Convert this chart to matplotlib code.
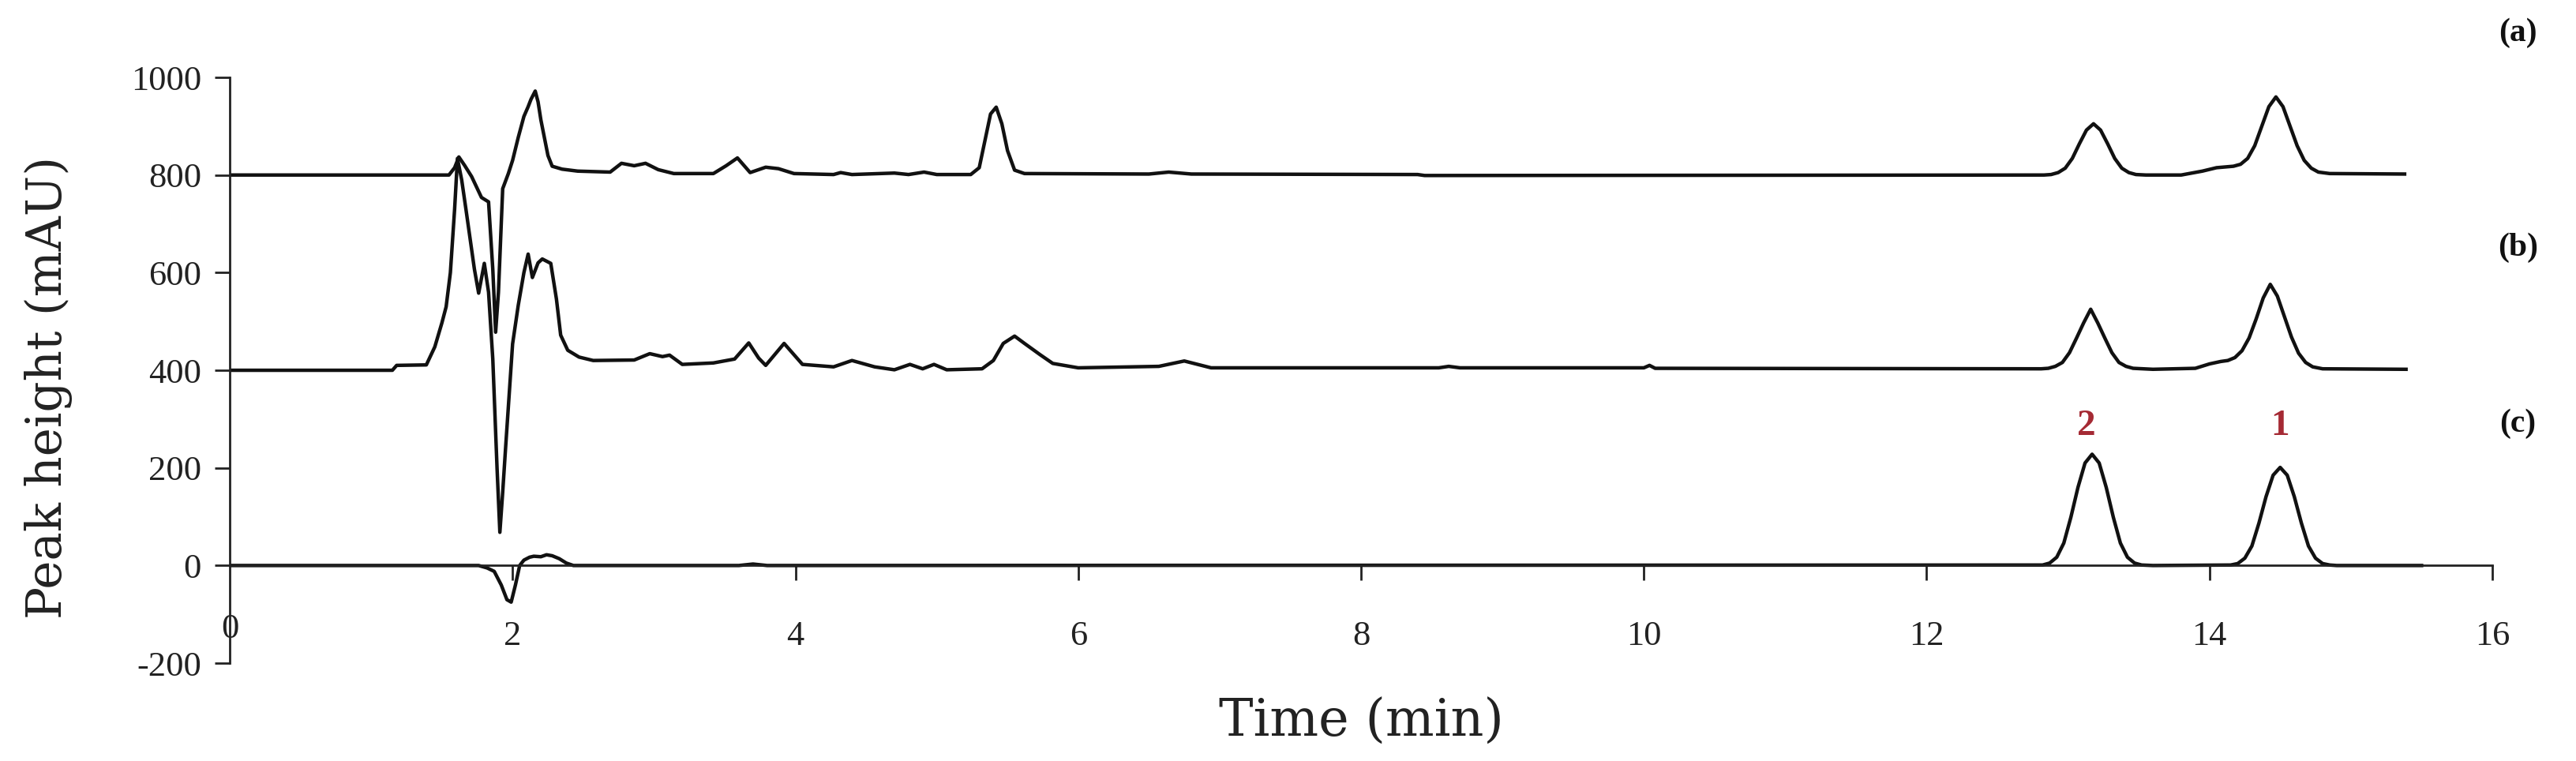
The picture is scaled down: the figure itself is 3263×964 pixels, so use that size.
import numpy as np
import matplotlib
matplotlib.use("Agg")
import matplotlib.pyplot as plt

plt.rcParams['font.family'] = ['Liberation Serif', 'DejaVu Serif']
plt.rcParams['axes.unicode_minus'] = False

# trace (a): sample, baseline 800
time_a = [0.00, 1.55, 1.59, 1.62, 1.66, 1.71, 1.78, 1.83, 1.86, 1.88, 1.90, 1.93, 1.97,
          2.00, 2.04, 2.08, 2.11, 2.13, 2.16, 2.18, 2.20, 2.25, 2.28, 2.35, 2.46, 2.69,
          2.77, 2.86, 2.94, 3.03, 3.14, 3.42, 3.51, 3.59, 3.68, 3.79, 3.88, 3.99, 4.27,
          4.32, 4.40, 4.70, 4.80, 4.91, 5.00, 5.24, 5.30, 5.34, 5.38, 5.42, 5.46, 5.50,
          5.55, 5.62, 6.50, 6.64, 6.80, 8.40, 8.45, 12.83, 12.88, 12.93, 12.98, 13.03,
          13.08, 13.13, 13.18, 13.23, 13.28, 13.33, 13.38, 13.43, 13.48, 13.55, 13.80,
          13.95, 14.05, 14.17, 14.22, 14.27, 14.32, 14.37, 14.42, 14.47, 14.52, 14.57,
          14.62, 14.67, 14.72, 14.77, 14.85, 15.38]
peak_a = [800, 800, 815, 837, 820, 797, 754, 745, 607, 478, 560, 772, 803,
          830, 877, 920, 940, 955, 972, 950, 913, 840, 818, 812, 808, 806,
          824, 819, 824, 811, 803, 803, 819, 835, 805, 816, 813, 803, 801,
          805, 801, 804, 801, 806, 801, 801, 815, 870, 925, 939, 905, 850,
          810, 803, 802, 806, 802, 801, 799, 800, 801, 805, 814, 834,
          864, 892, 905, 892, 864, 834, 814, 805, 801, 800, 800,
          808, 815, 818, 822, 834, 860, 900, 940, 960, 940, 900,
          860, 830, 814, 806, 803, 802]

# trace (b): sample, baseline 400
time_b = [0.00, 1.15, 1.18, 1.39, 1.45, 1.50, 1.53, 1.56, 1.59, 1.61, 1.64, 1.67, 1.73,
          1.76, 1.80, 1.83, 1.86, 1.89, 1.91, 1.93, 1.95, 2.00, 2.04, 2.08, 2.11, 2.14,
          2.18, 2.21, 2.27, 2.31, 2.34, 2.39, 2.47, 2.57, 2.86, 2.97, 3.06, 3.11, 3.20,
          3.42, 3.57, 3.67, 3.74, 3.79, 3.92, 4.05, 4.27, 4.40, 4.56, 4.70, 4.81, 4.90,
          4.98, 5.07, 5.32, 5.40, 5.47, 5.55, 5.62, 5.73, 5.82, 6.00, 6.57, 6.75, 6.94,
          8.55, 8.62, 8.70, 10.00, 10.04, 10.08, 12.81, 12.86, 12.91, 12.96, 13.01,
          13.06, 13.11, 13.16, 13.21, 13.26, 13.31, 13.36, 13.41, 13.46, 13.60, 13.90,
          14.00, 14.08, 14.13, 14.18, 14.23, 14.28, 14.33, 14.38, 14.43, 14.48, 14.53,
          14.58, 14.63, 14.68, 14.73, 14.80, 15.39]
peak_b = [400, 400, 410, 411, 448, 497, 530, 600, 730, 834, 790, 730, 607,
          558, 619, 560, 423, 200, 68, 150, 239, 454, 533, 600, 638, 590,
          620, 628, 619, 546, 472, 441, 427, 420, 421, 434, 428, 431, 412,
          415, 423, 456, 425, 410, 455, 412, 407, 420, 407, 401, 412, 403,
          412, 401, 403, 420, 455, 470, 455, 432, 414, 405, 408, 419, 405,
          405, 408, 405, 405, 410, 404, 403, 404, 408, 416, 436,
          466, 497, 525, 497, 466, 436, 416, 408, 404, 402, 404,
          413, 418, 420, 426, 440, 466, 505, 548, 576, 552, 510,
          468, 435, 416, 407, 403, 402]

# trace (c): standard, baseline 0
time_c = [0.00, 1.76, 1.82, 1.87, 1.92, 1.96, 1.99, 2.02, 2.05, 2.08, 2.12, 2.15, 2.20,
          2.24, 2.28, 2.33, 2.38, 2.43, 3.60, 3.70, 3.80, 12.82, 12.87, 12.92, 12.97,
          13.02, 13.07, 13.12, 13.17, 13.22, 13.27, 13.32, 13.37, 13.42, 13.47, 13.52,
          13.60, 14.15, 14.20, 14.25, 14.30, 14.35, 14.40, 14.45, 14.50, 14.55, 14.60,
          14.65, 14.70, 14.75, 14.80, 14.85, 14.90, 15.50]
peak_c = [0, 0, -5, -12, -40, -70, -75, -40, 0, 11, 17, 19, 18,
          22, 20, 14, 5, 0, 0, 3, 0, 1, 5, 17, 46,
          99, 160, 210, 228, 210, 160, 99, 46, 17, 5, 1,
          0, 1, 4, 15, 40, 87, 141, 185, 201, 185, 141,
          87, 40, 15, 4, 1, 0, 0]

trace_labels = ['(a)', '(b)', '(c)']
trace_label_y = [1091, 651, 290]
peak_names = ['2', '1']
peak_name_x = [13.13, 14.50]

x_ticks = list(range(2, 17, 2))
y_ticks = list(range(-200, 1001, 200))

fig = plt.figure(figsize=(32.63, 9.64), dpi=100)
ax = fig.add_axes([0.0892, 0.1286, 0.8783, 0.7697])

line_kw = dict(color='#111111', lw=3.2, solid_joinstyle='round')
ax.plot(time_a, peak_a, **line_kw)
ax.plot(time_b, peak_b, **line_kw)
ax.plot(time_c, peak_c, **line_kw)

ax.set_xlim(0, 16)
ax.set_ylim(-200, 1000)

for s in ['top', 'right']:
    ax.spines[s].set_visible(False)
ax.spines['bottom'].set_position(('data', 0))
for s in ['left', 'bottom']:
    ax.spines[s].set_linewidth(2.0)
    ax.spines[s].set_color('#222222')

ax.set_xticks(x_ticks)
ax.set_yticks(y_ticks)
ax.tick_params(axis='x', direction='out', length=14, width=2, pad=36,
               labelsize=32, colors='#222222')
ax.tick_params(axis='y', direction='out', length=14, width=2, pad=12,
               labelsize=32, colors='#222222')
ax.set_yticklabels([str(v) for v in y_ticks])
ax.text(0, -130, '0', ha='center', va='center', fontsize=32, color='#222222')

ax.text(8, -321, 'Time (min)', ha='center', va='center', fontsize=47,
        family=['DejaVu Serif'], color='#222222')
ax.text(-1.28, 365, 'Peak height (mAU)', ha='center', va='center', rotation=90,
        fontsize=44, family=['DejaVu Serif'], color='#222222', clip_on=False)

for lab, yv in zip(trace_labels, trace_label_y):
    ax.text(16.18, yv, lab, ha='center', va='center', fontsize=30,
            fontweight='bold', color='#111111', clip_on=False)

for name, xv in zip(peak_names, peak_name_x):
    ax.text(xv, 285, name, ha='center', va='center', fontsize=34,
            fontweight='bold', color='#a52a34')

fig.savefig('out.png', dpi=100)
